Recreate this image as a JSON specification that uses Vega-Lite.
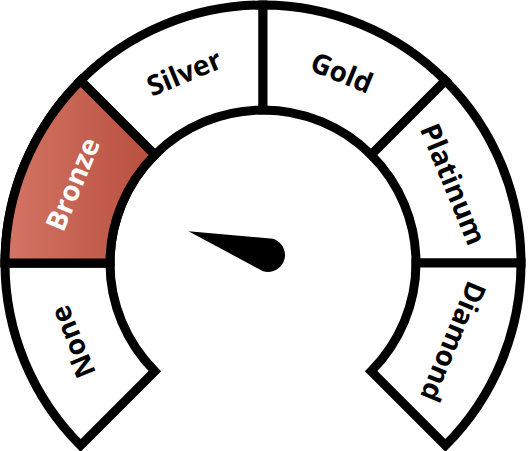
{
  "$schema": "https://vega.github.io/schema/vega-lite/v6.json",
  "width": 528,
  "height": 451,
  "padding": 0,
  "autosize": "none",
  "background": "white",
  "config": {"view": {"stroke": null}},
  "data": {
    "values": [
      {"tier": "None", "start": 0, "end": 1, "mid": 0.5},
      {"tier": "Bronze", "start": 1, "end": 2, "mid": 1.5},
      {"tier": "Silver", "start": 2, "end": 3, "mid": 2.5},
      {"tier": "Gold", "start": 3, "end": 4, "mid": 3.5},
      {"tier": "Platinum", "start": 4, "end": 5, "mid": 4.5},
      {"tier": "Diamond", "start": 5, "end": 6, "mid": 5.5}
    ]
  },
  "encoding": {
    "x": {"datum": 0, "type": "quantitative", "scale": {"domain": [-263, 265]}, "axis": null},
    "y": {"datum": 0, "type": "quantitative", "scale": {"domain": [-188, 263]}, "axis": null}
  },
  "layer": [
    {
      "mark": {"type": "arc", "radius": 258, "radius2": 153, "stroke": "black", "strokeWidth": 9, "fill": "white", "strokeJoin": "miter"},
      "encoding": {
        "theta": {"field": "start", "type": "quantitative", "stack": null, "scale": {"domain": [0, 6], "range": [-2.35619449, 2.35619449]}},
        "theta2": {"field": "end"}
      }
    },
    {
      "transform": [{"filter": "datum.tier === 'Bronze'"}],
      "mark": {
        "type": "arc", "radius": 258, "radius2": 153, "stroke": "black", "strokeWidth": 9, "strokeJoin": "miter",
        "fill": {
          "gradient": "linear", "x1": 0, "y1": 0.5, "x2": 1, "y2": 0.5,
          "stops": [{"offset": 0, "color": "#d47565"}, {"offset": 1, "color": "#b84e3e"}]
        }
      },
      "encoding": {
        "theta": {"field": "start", "type": "quantitative", "stack": null, "scale": {"domain": [0, 6], "range": [-2.35619449, 2.35619449]}},
        "theta2": {"field": "end"}
      }
    },
    {
      "mark": {"type": "text", "radius": 204, "font": "Open Sans", "fontWeight": "bold", "fontSize": 28, "align": "center", "baseline": "middle"},
      "encoding": {
        "theta": {"field": "mid", "type": "quantitative", "stack": null, "scale": {"domain": [0, 6], "range": [-2.35619449, 2.35619449]}},
        "angle": {"field": "mid", "type": "quantitative", "scale": {"domain": [0, 6], "range": [-135, 135]}},
        "text": {"field": "tier"},
        "color": {"condition": {"test": "datum.tier === 'Bronze'", "value": "white"}, "value": "black"}
      }
    },
    {
      "data": {"values": [{"reading": 1.37}]},
      "mark": {
        "type": "point", "filled": true, "fill": "black", "stroke": null, "opacity": 1, "size": 4,
        "xOffset": 5, "yOffset": -8,
        "shape": "M-17,0 L0,-83 L17,0 A17,17 0 0,1 -17,0 Z"
      },
      "encoding": {
        "angle": {"field": "reading", "type": "quantitative", "scale": {"domain": [0, 6], "range": [-135, 135]}}
      }
    }
  ]
}
